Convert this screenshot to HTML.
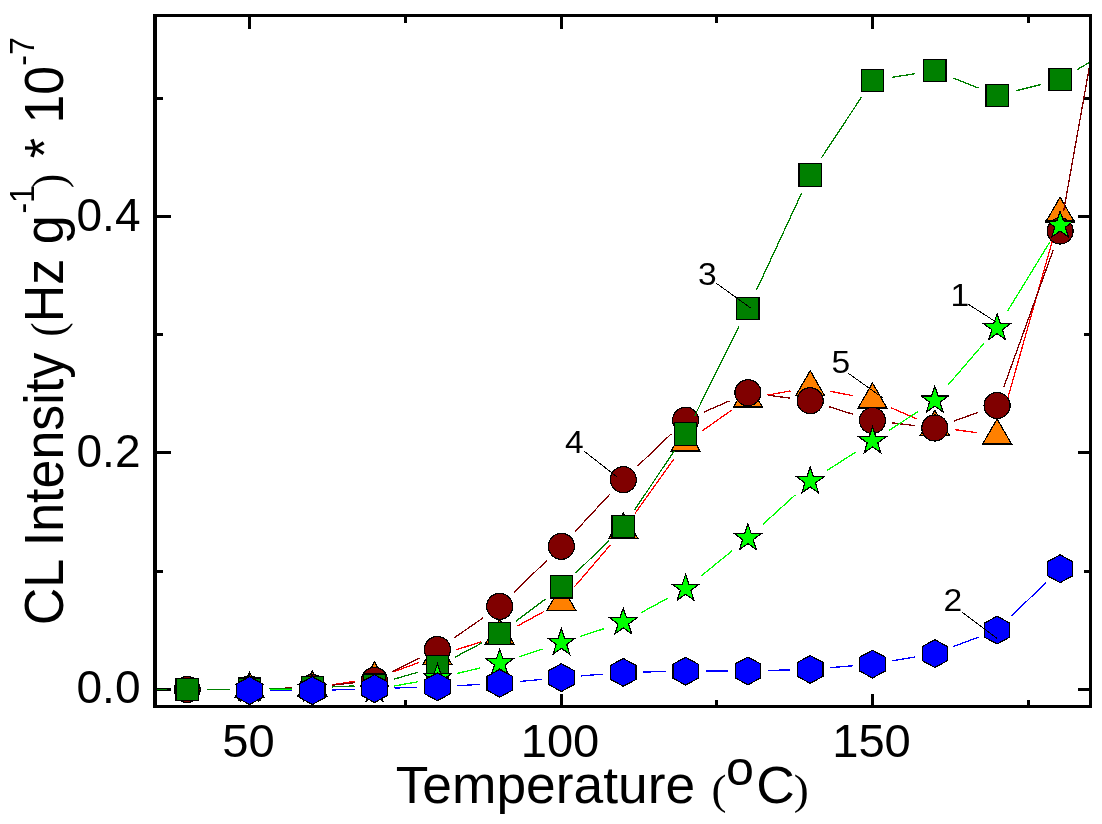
<!DOCTYPE html>
<html lang="en">
<head>
<meta charset="utf-8">
<title>CL Intensity vs Temperature</title>
<style>
html,body{margin:0;padding:0;background:#fff;}
body{width:1102px;height:824px;overflow:hidden;}
svg{display:block;}
text{font-family:'Liberation Sans', Arial, sans-serif;fill:#000;}
.tick{font-size:45.6px;}
.ttl{font-size:51px;}
.ttly{font-size:52px;}
.lbl{font-size:32px;}
.par{font-family:'Liberation Serif', 'Times New Roman', serif;font-size:46px;}
.sup{font-size:33px;}
</style>
</head>
<body>
<svg width="1102" height="824" viewBox="0 0 1102 824">
<rect width="1102" height="824" fill="#fff"/>
<defs><clipPath id="plot"><rect x="155.2" y="15.2" width="935.4" height="691.1"/></clipPath></defs>

<g shape-rendering="crispEdges">
<path fill="#000" d="M153 13.5H1092.3V17H153zM153 704.5H1092.3V708H153zM153 13.5H157.2V708H153zM1089 13.5H1092.3V708H1089z"/>
<path d="M249.5 706.3v-12.5M249.5 15.2v14M561 706.3v-12.5M561 15.2v14M872.5 706.3v-12.5M872.5 15.2v14M405.2 706.3v-6M405.2 15.2v7.5M716.8 706.3v-6M716.8 15.2v7.5M1028.2 706.3v-6M1028.2 15.2v7.5M155.2 689.2h15.8M1090.6 689.2h-12.5M155.2 452.8h15.8M1090.6 452.8h-12.5M155.2 216.4h15.8M1090.6 216.4h-12.5M155.2 571h8M1090.6 571h-6.5M155.2 334.6h8M1090.6 334.6h-6.5M155.2 98.2h8M1090.6 98.2h-6.5" stroke="#000" stroke-width="3" fill="none"/>
</g>
<g clip-path="url(#plot)" shape-rendering="crispEdges">
<g>
<path d="M269.5 688.5L292.3 688M332.1 684.7L354.7 681.4M393.3 671.8L418.6 662.7M456.4 649.8L480.7 641.9M517.3 626.1L543.8 611.6M574.4 586.8L610.3 545.1M634.9 513.6L674 458.9M701.9 431.1L731.6 410.2M767.6 395.1L790.5 390.9M829.8 391.2L852.9 395.7M890.8 407.6L916.5 418.8M954.6 429.6L977.3 432.8M1002.6 416.4L1054.6 233" stroke="#ff0000" stroke-width="1.3" fill="none"/>
<g fill="#ff8000" stroke="#000" stroke-width="1.2" stroke-linejoin="miter" stroke-miterlimit="10">
<polygon points="249.5,672.3 263.9,697.2 235.1,697.2"/>
<polygon points="312.3,671 326.7,695.9 297.9,695.9"/>
<polygon points="374.5,661.9 388.9,686.8 360.1,686.8"/>
<polygon points="437.4,639.4 451.8,664.3 423,664.3"/>
<polygon points="499.7,619.1 514.1,644 485.3,644"/>
<polygon points="561.4,585.4 575.8,610.3 547,610.3"/>
<polygon points="623.3,513.3 637.7,538.2 608.9,538.2"/>
<polygon points="685.6,426 700,450.9 671.2,450.9"/>
<polygon points="747.9,382.1 762.3,407 733.5,407"/>
<polygon points="810.2,370.7 824.6,395.6 795.8,395.6"/>
<polygon points="872.5,383 886.9,407.9 858.1,407.9"/>
<polygon points="934.8,410.2 949.2,435.1 920.4,435.1"/>
<polygon points="997.1,419 1011.5,443.9 982.7,443.9"/>
<polygon points="1060.1,197.2 1074.5,222.1 1045.7,222.1"/>
</g></g>
<g>
<path d="M207.2 689.3L229.5 689.2M269.5 688.5L292.3 688M332.2 685.2L354.6 682.7M392.5 671.6L419.4 658.3M453.8 638.1L483.3 617.7M514 592.4L547.1 560.2M575 531.7L609.7 494.3M637.8 465.9L671.1 434M703.9 412.1L729.6 400.8M767.7 395.2L790.4 398.2M829.3 406.8L853.4 414.4M892.4 422.9L914.9 425.6M953.6 421.2L978.3 412.3M1003.9 386.7L1053.3 249.8M1063.6 211.3L1118.2 -94.3" stroke="#800000" stroke-width="1.3" fill="none"/>
<g fill="#800000" stroke="#000" stroke-width="1.2" stroke-linejoin="miter" stroke-miterlimit="10">
<circle cx="187.2" cy="689.5" r="13"/>
<circle cx="249.5" cy="689" r="13"/>
<circle cx="312.3" cy="687.5" r="13"/>
<circle cx="374.5" cy="680.4" r="13"/>
<circle cx="437.4" cy="649.5" r="13"/>
<circle cx="499.7" cy="606.3" r="13"/>
<circle cx="561.4" cy="546.3" r="13"/>
<circle cx="623.3" cy="479.7" r="13"/>
<circle cx="685.6" cy="420.2" r="13"/>
<circle cx="747.9" cy="392.7" r="13"/>
<circle cx="810.2" cy="400.7" r="13"/>
<circle cx="872.5" cy="420.5" r="13"/>
<circle cx="934.8" cy="428" r="13"/>
<circle cx="997.1" cy="405.5" r="13"/>
<circle cx="1060.1" cy="231" r="13"/>
</g></g>
<g>
<path d="M144.9 689.4L167.2 689.4M207.2 689.4L229.5 689.4M269.5 688.8L292.3 688.3M332.3 686.9L354.5 685.9M393.7 679.3L418.2 672.1M455.1 657.1L482 642.9M515.6 621.5L545.5 599M575.7 573L609 540.6M634.5 510.1L674.4 450.6M694.5 416.1L739 326.3M756.4 290.3L801.7 193M821.2 158.2L861.5 97.1M892.3 77.3L915 73.7M953.4 78L978.5 88.1M1016.5 90.6L1040.7 84.6M1077.3 69.5L1104.5 53.6" stroke="#008000" stroke-width="1.3" fill="none"/>
<g fill="#008000" stroke="#000" stroke-width="1.2" stroke-linejoin="miter" stroke-miterlimit="10">
<rect x="176" y="678.4" width="22.3" height="22.3"/>
<rect x="238.3" y="678.1" width="22.3" height="22.3"/>
<rect x="301.2" y="676.6" width="22.3" height="22.3"/>
<rect x="363.4" y="673.9" width="22.3" height="22.3"/>
<rect x="426.2" y="655.2" width="22.3" height="22.3"/>
<rect x="488.6" y="622.5" width="22.3" height="22.3"/>
<rect x="550.2" y="575.8" width="22.3" height="22.3"/>
<rect x="612.1" y="515.6" width="22.3" height="22.3"/>
<rect x="674.5" y="422.9" width="22.3" height="22.3"/>
<rect x="736.8" y="297.2" width="22.3" height="22.3"/>
<rect x="799.1" y="163.8" width="22.3" height="22.3"/>
<rect x="861.4" y="69.2" width="22.3" height="22.3"/>
<rect x="923.7" y="59.4" width="22.3" height="22.3"/>
<rect x="986" y="84.3" width="22.3" height="22.3"/>
<rect x="1049" y="68.5" width="22.3" height="22.3"/>
</g></g>
<g>
<path d="M269.5 689.2L292.3 689.2M332.3 689.3L354.5 689.5M394.2 686L417.7 681.8M456.9 673.5L480.2 668M518.7 657L542.4 649M580.4 636.4L604.3 628.6M640.9 612.8L668 598.1M701.1 576L732.4 550.6M762.7 524.5L795.4 494.8M827 470.5L855.7 452.1M889.2 430.3L918.1 411.5M947.8 385.3L984.1 343.2M1007.6 311L1049.6 242.4" stroke="#00ff00" stroke-width="1.3" fill="none"/>
<g fill="#00ff00" stroke="#000" stroke-width="1.2" stroke-linejoin="miter" stroke-miterlimit="10">
<polygon points="249.5,675 252.8,684.7 263,684.8 254.8,690.9 257.8,700.7 249.5,694.8 241.2,700.7 244.2,690.9 236,684.8 246.2,684.7"/>
<polygon points="312.3,675 315.6,684.7 325.8,684.8 317.6,690.9 320.6,700.7 312.3,694.8 304,700.7 307,690.9 298.8,684.8 309,684.7"/>
<polygon points="374.5,675.4 377.8,685.1 388,685.2 379.8,691.3 382.8,701.1 374.5,695.2 366.2,701.1 369.2,691.3 361,685.2 371.2,685.1"/>
<polygon points="437.4,664 440.7,673.7 450.9,673.8 442.7,679.9 445.7,689.7 437.4,683.8 429.1,689.7 432.1,679.9 423.9,673.8 434.1,673.7"/>
<polygon points="499.7,649.1 503,658.8 513.2,658.9 505,665 508,674.8 499.7,668.9 491.4,674.8 494.4,665 486.2,658.9 496.4,658.8"/>
<polygon points="561.4,628.5 564.7,638.2 574.9,638.3 566.7,644.4 569.7,654.2 561.4,648.3 553.1,654.2 556.1,644.4 547.9,638.3 558.1,638.2"/>
<polygon points="623.3,608.1 626.6,617.8 636.8,617.9 628.6,624 631.6,633.8 623.3,627.9 615,633.8 618,624 609.8,617.9 620,617.8"/>
<polygon points="685.6,574.4 688.9,584.1 699.1,584.2 690.9,590.3 693.9,600.1 685.6,594.2 677.3,600.1 680.3,590.3 672.1,584.2 682.3,584.1"/>
<polygon points="747.9,523.8 751.2,533.5 761.4,533.6 753.2,539.7 756.2,549.5 747.9,543.6 739.6,549.5 742.6,539.7 734.4,533.6 744.6,533.5"/>
<polygon points="810.2,467.1 813.5,476.8 823.7,476.9 815.5,483 818.5,492.8 810.2,486.9 801.9,492.8 804.9,483 796.7,476.9 806.9,476.8"/>
<polygon points="872.5,427.1 875.8,436.8 886,436.9 877.8,443 880.8,452.8 872.5,446.9 864.2,452.8 867.2,443 859,436.9 869.2,436.8"/>
<polygon points="934.8,386.3 938.1,396 948.3,396.1 940.1,402.2 943.1,412 934.8,406.1 926.5,412 929.5,402.2 921.3,396.1 931.5,396"/>
<polygon points="997.1,313.8 1000.4,323.5 1010.6,323.6 1002.4,329.7 1005.4,339.5 997.1,333.6 988.8,339.5 991.8,329.7 983.6,323.6 993.8,323.5"/>
<polygon points="1060.1,211.2 1063.4,220.9 1073.6,221 1065.4,227.1 1068.4,236.9 1060.1,231 1051.8,236.9 1054.8,227.1 1046.6,221 1056.8,220.9"/>
</g></g>
<g>
<path d="M269.5 690.6L292.3 690.6M332.3 690L354.5 689.2M394.5 688L417.4 687.4M457.4 685.7L479.7 684.4M519.6 681.5L541.5 679.4M581.3 675.9L603.4 674.1M643.3 672L665.6 671.6M705.6 671.1L727.9 671M767.9 670.4L790.2 669.9M830.1 667.7L852.6 665.8M892.2 660.8L915.1 656.9M953.5 646.5L978.4 637.2M1011.4 616.1L1045.8 582.7" stroke="#0000ff" stroke-width="1.3" fill="none"/>
<g fill="#0000ff" stroke="#000" stroke-width="1.2" stroke-linejoin="miter" stroke-miterlimit="10">
<polygon points="249.5,676.7 262.2,683.6 262.2,697.6 249.5,704.5 236.8,697.6 236.8,683.6"/>
<polygon points="312.3,676.7 325,683.6 325,697.6 312.3,704.5 299.6,697.6 299.6,683.6"/>
<polygon points="374.5,674.7 387.2,681.6 387.2,695.6 374.5,702.5 361.8,695.6 361.8,681.6"/>
<polygon points="437.4,672.9 450.1,679.8 450.1,693.8 437.4,700.7 424.7,693.8 424.7,679.8"/>
<polygon points="499.7,669.4 512.4,676.3 512.4,690.2 499.7,697.2 487,690.2 487,676.3"/>
<polygon points="561.4,663.7 574.1,670.6 574.1,684.6 561.4,691.5 548.7,684.6 548.7,670.6"/>
<polygon points="623.3,658.5 636,665.4 636,679.4 623.3,686.3 610.6,679.4 610.6,665.4"/>
<polygon points="685.6,657.3 698.3,664.2 698.3,678.2 685.6,685.1 672.9,678.2 672.9,664.2"/>
<polygon points="747.9,657 760.6,663.9 760.6,677.9 747.9,684.8 735.2,677.9 735.2,663.9"/>
<polygon points="810.2,655.5 822.9,662.4 822.9,676.4 810.2,683.3 797.5,676.4 797.5,662.4"/>
<polygon points="872.5,650.2 885.2,657.1 885.2,671.1 872.5,678 859.8,671.1 859.8,657.1"/>
<polygon points="934.8,639.7 947.5,646.6 947.5,660.6 934.8,667.5 922.1,660.6 922.1,646.6"/>
<polygon points="997.1,616.2 1009.8,623.1 1009.8,637.1 997.1,644 984.4,637.1 984.4,623.1"/>
<polygon points="1060.1,554.8 1072.8,561.8 1072.8,575.7 1060.1,582.6 1047.4,575.7 1047.4,561.8"/>
</g></g>
</g>
<g shape-rendering="crispEdges"><path fill="#000" d="M153 13.5H1092.3V17H153zM153 704.5H1092.3V708H153zM153 13.5H157.2V708H153zM1089 13.5H1092.3V708H1089z"/></g>
<g class="tick" text-anchor="middle">
<text transform="translate(248.5,756.5) scale(1.035,1)">50</text>
<text transform="translate(560,756.5) scale(1.035,1)">100</text>
<text transform="translate(871.5,756.5) scale(1.035,1)">150</text>
</g>
<g class="tick" text-anchor="end">
<text transform="translate(140.5,703.3) scale(1.01,1)">0.0</text>
<text transform="translate(140.5,466.9) scale(1.01,1)">0.2</text>
<text transform="translate(140.5,230.5) scale(1.01,1)">0.4</text>
</g>
<g transform="translate(395.7,802.6) scale(1.046,1)"><text class="ttl" x="0" y="0">Temperature <tspan class="par" style="font-size:43px" dx="1.5" dy="1">(</tspan><tspan dy="-19" dx="-0.5" font-size="48">o</tspan><tspan dy="18" dx="2.3">C</tspan><tspan class="par" style="font-size:43px" dy="1" dx="-1">)</tspan></text></g>
<g transform="translate(62.5,625.3) rotate(-90) scale(1,1.085)"><text class="ttly" x="0" y="0">CL Intensity <tspan class="par" style="font-size:43.5px" dx="1.5">(</tspan>Hz g<tspan class="sup" style="font-size:32px" dx="1.8" dy="-26.2">-1</tspan><tspan class="par" style="font-size:43.5px" dx="-3.3" dy="27.2">)</tspan><tspan dy="-1" dx="1.2"> * 10</tspan><tspan class="sup" style="font-size:32px" dy="-26.2">-7</tspan></text></g>
<g>
<line x1="715.8" y1="282.9" x2="750.4" y2="307.8" stroke="#000" stroke-width="1" shape-rendering="crispEdges"/>
<text class="lbl" transform="translate(698,285.3) scale(1.05,1)">3</text>
<line x1="583.7" y1="450.8" x2="616.7" y2="476.7" stroke="#000" stroke-width="1" shape-rendering="crispEdges"/>
<text class="lbl" transform="translate(565,453.2) scale(1.05,1)">4</text>
<line x1="848.2" y1="373.2" x2="882.9" y2="398" stroke="#000" stroke-width="1" shape-rendering="crispEdges"/>
<text class="lbl" transform="translate(831.5,372.7) scale(1.05,1)">5</text>
<line x1="968.1" y1="304.1" x2="996" y2="322" stroke="#000" stroke-width="1" shape-rendering="crispEdges"/>
<text class="lbl" transform="translate(950.5,305.8) scale(1.05,1)">1</text>
<line x1="961.7" y1="611.8" x2="996.9" y2="638.2" stroke="#000" stroke-width="1" shape-rendering="crispEdges"/>
<text class="lbl" transform="translate(943.5,610.7) scale(1.05,1)">2</text>
</g>
</svg>
</body>
</html>
